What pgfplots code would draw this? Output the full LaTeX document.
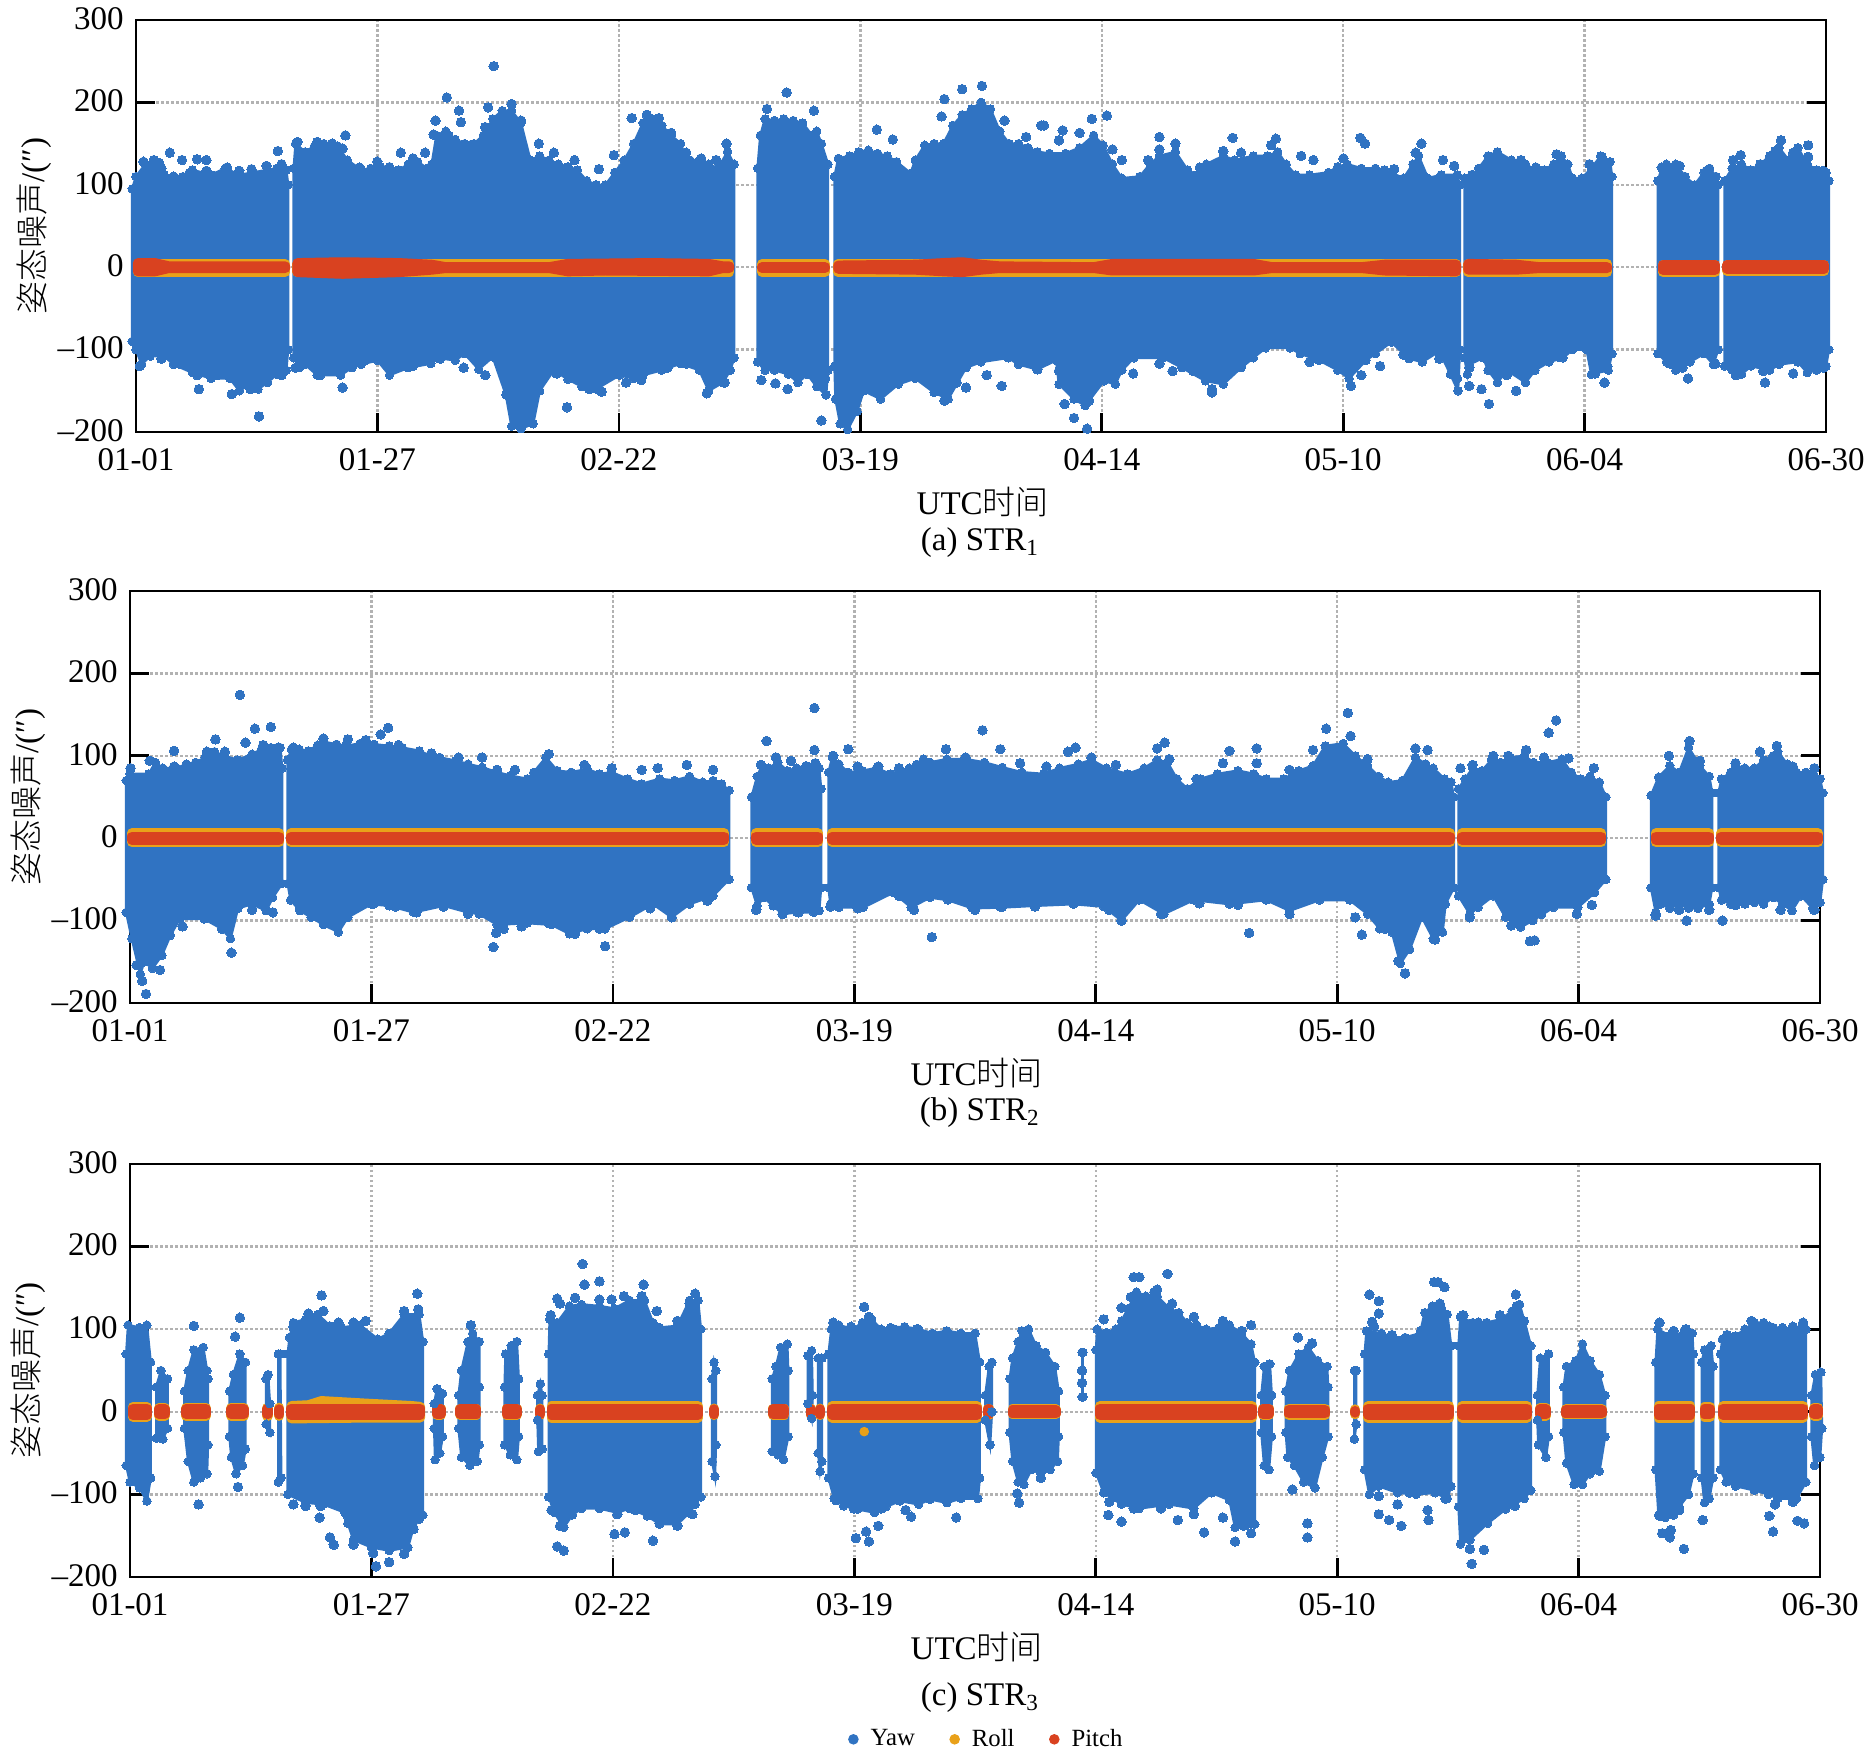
\documentclass[border=0pt]{standalone}
\usepackage{fontspec}
\usepackage{pgfplots}
\pgfplotsset{compat=1.18}
\setmainfont{Liberation Serif}
\newfontfamily\cjk{Noto Sans CJK SC}[UprightFont=* Light]

\definecolor{yaw}{RGB}{48,115,194}
\definecolor{roll}{RGB}{233,161,26}
\definecolor{pitch}{RGB}{217,66,32}

\pgfplotsset{
  strpanel/.style={
    scale only axis, width=676pt, height=164.8pt, anchor=south west,
    clip=false, xmin=0, xmax=180, ymin=-200, ymax=300,
    xtick={0,25.71,51.43,77.14,102.86,128.57,154.29,180},
    xticklabels={01-01,01-27,02-22,03-19,04-14,05-10,06-04,06-30},
    ytick={-200,-100,0,100,200,300},
    yticklabels={--200,--100,0,100,200,300},
    xtick pos=bottom, ytick pos=both, tick align=inside,
    major tick length=7.6pt, tick style={black,line width=1.1pt},
    axis line style={line width=1.1pt},
    xmajorgrids, ymajorgrids,
    grid style={gray!60,line width=1pt,dash pattern=on 1pt off 1pt},
    tick label style={font=\fontsize{13.2}{15}\selectfont},
    xticklabel style={yshift=-3.2pt},
    yticklabel style={xshift=-1.4pt,yshift=0.6pt},
    xlabel={UTC{\cjk 时间}},
    ylabel={{\cjk 姿态噪声}/(″)},
    label style={font=\fontsize{13.2}{15}\selectfont},
    xlabel style={at={(axis description cs:0.501,-0.17)},anchor=center},
    ylabel style={at={(axis description cs:-0.0605,0.5)},anchor=center},
  },
  yawblob/.style={forget plot,draw=yaw,fill=yaw,line width=1pt,mark=*,mark size=1.7pt,
    mark options={draw=yaw,fill=yaw,line width=0pt}},
  yawdots/.style={forget plot,only marks,mark=*,mark size=1.9pt,
    mark options={draw=yaw,fill=yaw,line width=0pt}},
  rollband/.style={forget plot,draw=roll,fill=roll,line width=4pt,line join=round},
  pitchband/.style={forget plot,draw=pitch,fill=pitch,line width=4pt,line join=round},
}
\newcommand{\rollrect}[4]{\addplot[rollband] coordinates {(#1,#3)(#2,#3)(#2,#4)(#1,#4)} -- cycle;}
\newcommand{\pitchrect}[4]{\addplot[pitchband] coordinates {(#1,#3)(#2,#3)(#2,#4)(#1,#4)} -- cycle;}

\begin{document}
\begin{tikzpicture}[x=0.4pt,y=-0.4pt]
\path[use as bounding box] (0,0) rectangle (1870,1750);
\coordinate (pa) at (136,432);
\coordinate (pb) at (130,1003);
\coordinate (pc) at (130,1577);

% panel a, STR1
\begin{axis}[strpanel,at={(pa)}]
\addplot[yawblob] coordinates {(-0.4,95)(0,110)(1,125)(2.5,127)(3,112)(5,110)(6,118)(8,112)(9.5,120)(11,112)(12.5,115)(14,118)(15,120)(16,118)(16.2,100)
 (16.2,-100)(16,-125)(15,-130)(14,-140)(13,-148)(12,-143)(11,-150)(10,-135)(8,-135)(6,-128)(4,-118)(3,-108)(1.5,-108)(0.6,-118)(0,-100)(-0.4,-90)} -- cycle;
\addplot[yawblob] coordinates {(16.8,120)(17,150)(18,140)(19,147)(20,150)(21.5,147)(22.5,130)(24,118)(25,120)(26,122)(27,122)(28,118)(29,125)(30,128)(31,120)(31.5,125)(32,160)(33,165)(34,155)(35,150)(36,150)(37,160)(38,180)(39,190)(40,190)(41,175)(42,130)(43,135)(44,130)(45,125)(46,122)(47,118)(48,105)(49,100)(50,100)(51,115)(52,130)(53,150)(54,175)(55,180)(56,172)(57,160)(58,150)(58.5,135)(59,130)(60,130)(61,125)(62,120)(63,140)(63.7,125)
 (63.7,-110)(63.3,-125)(62.5,-140)(61,-150)(60,-125)(58,-117)(56,-125)(54,-131)(53,-135)(51.5,-131)(49,-148)(47.5,-145)(46,-136)(44.5,-125)(43,-150)(42.3,-190)(41,-196)(40,-193)(39.4,-155)(38,-109)(36.5,-124)(35,-105)(34,-113)(32,-110)(31.4,-117)(29,-122)(27,-131)(25.7,-113)(24,-118)(23,-122)(21.8,-131)(19.3,-131)(18,-118)(17.4,-122)(16.8,-110)} -- cycle;
\addplot[yawblob] coordinates {(66.2,120)(66.5,160)(67,180)(68,178)(69,180)(70,178)(71,175)(72,160)(72.5,165)(73,150)(73.7,125)
 (73.7,-125)(73.5,-155)(72.5,-145)(71.5,-130)(70.5,-140)(69.5,-130)(68,-125)(67,-125)(66.2,-115)} -- cycle;
\addplot[yawblob] coordinates {(74.4,110)(74.8,132)(76,135)(77,140)(78,142)(79,138)(80,135)(81,128)(82.5,114)(83,130)(84,148)(85,150)(86,150)(87,172)(88,185)(89,192)(90,200)(91,192)(92,165)(93,150)(94,150)(95,145)(96,140)(97.3,138)(99,138)(100.5,145)(102,160)(103,148)(104,125)(105,108)(106.9,110)(108,125)(109,135)(110.7,140)(112,118)(113,112)(114,125)(115.8,135)(117,130)(119,135)(120.5,135)(121.6,140)(122.5,125)(123.5,112)(125,112)(127,115)(128,122)(129,125)(130.5,120)(132,120)(133,118)(135,108)(136,125)(136.6,135)(137.6,108)(139,112)(140.7,112)(141,100)
 (141,-100)(140.8,-150)(140,-130)(138.8,-102)(137,-115)(135.6,-111)(133.7,-91)(132,-105)(131,-113)(129.2,-135)(128,-125)(126,-113)(124,-105)(122.9,-98)(120.3,-98)(119,-110)(117.7,-122)(115.8,-142)(113.9,-138)(111.4,-122)(109.4,-110)(106.3,-110)(105,-125)(104.3,-142)(103.1,-138)(101.1,-168)(99.9,-160)(98.3,-142)(98,-113)(96,-124)(94,-118)(92.9,-110)(90,-115)(88.4,-122)(86.5,-160)(85,-152)(83,-135)(81.2,-142)(79.3,-160)(77.5,-150)(76.8,-175)(75.8,-197)(75,-190)(74.5,-160)(74.4,-120)} -- cycle;
\addplot[yawblob] coordinates {(141.5,108)(142.5,112)(143,120)(144,135)(145,140)(146.5,130)(148,125)(149,118)(150,118)(151,125)(151.8,135)(152.5,125)(153,108)(154,108)(155,120)(156,135)(157,128)(157.2,110)
 (157.2,-105)(156.8,-125)(155,-130)(154.5,-100)(153,-100)(152,-110)(150.5,-115)(149,-125)(148,-140)(146,-125)(145,-140)(144,-125)(143.5,-110)(142,-118)(141.8,-130)(141.5,-110)} -- cycle;
\addplot[yawblob] coordinates {(162.1,105)(162.5,120)(163,125)(164,125)(165,110)(166,100)(167,115)(167.6,120)(168.3,110)(168.5,100)
 (168.5,-100)(168,-118)(167,-105)(165.5,-115)(164,-125)(163,-115)(162.1,-105)} -- cycle;
\addplot[yawblob] coordinates {(169.2,105)(170,120)(171,125)(172,118)(173,125)(174,135)(175,145)(176,130)(177,145)(178,125)(179,118)(180,115)(180.3,105)
 (180.3,-100)(180,-120)(179,-125)(178,-128)(177,-115)(175,-118)(174,-125)(172,-120)(171,-130)(170,-125)(169.2,-120)} -- cycle;
% isolated points
\addplot[yawdots] coordinates {(3.6,139)(4.9,130)(6.5,131)(7.5,130)(15.1,141)(22.3,160)(13.1,-181)(6.7,-148)(10.2,-154)(12.2,-148)
 (38.1,244)(33.1,206)(34.4,190)(34.6,176)(31.9,178)(40,198)(37.5,194)(45.9,-170)(22,-146)
 (69.3,212)(67.2,192)(72.2,190)(66.6,-137)(68.1,-141)(69.4,-148)(73.4,-135)(73,-186)
 (90.1,220)(88,216)(86.1,204)(85.8,183)(101.8,180)(103.4,184)(96.7,172)(98.7,166)(109,158)(116.8,157)(121.4,156)(130.4,157)(136.9,150)(78.9,167)(80.6,155)
 (101.3,-196)(99.9,-183)(98.9,-166)(101.5,-162)(90.6,-131)(92.2,-144)(88.4,-146)(132.5,-120)(129.4,-144)(114.6,-152)(110.4,-126)
 (144.1,-166)(143.3,-148)(156.4,-140)(147,-150)(142,-144)(165.3,-135)(175.2,154)(178.1,148)(173.5,-140)(170.9,136)};
% points on the rim of the cloud
\addplot[yawdots] coordinates {(0.8,128)(1.9,130)(2.7,120)(4,110)(5.7,114)(7.5,117)(9.7,121)(11,117)(12.3,119)(13.9,123)(15.5,125)
 (17.2,152)(18,139)(19.3,152)(20.9,150)(22,144)(23.8,121)(25.7,128)(27,117)(28.2,139)(29.5,132)(30.8,139)(31.7,161)(33.3,159)(35.6,148)(37.2,170)(38.4,178)(41,178)(42.9,150)(44.5,139)(46.7,130)(49.3,119)(50.9,136)(52.8,181)(54.4,185)(55.7,181)(57,163)(58.6,139)(60.2,132)(61.8,130)(62.9,150)
 (0.4,-120)(2.7,-111)(4.6,-117)(6.5,-131)(8.7,-131)(11,-135)(12.9,-144)(15.5,-131)(17,-122)(19.6,-131)(21.8,-126)(24.4,-113)(27,-120)(29.5,-120)(32.4,-111)(34.9,-122)(37.2,-131)(44.8,-129)(48.3,-148)(49.6,-151)(52.2,-140)(53.8,-137)(56.6,-122)(58.6,-117)(60.8,-153)(62.7,-140)
 (92.5,178)(94.8,158)(96.4,172)(98.3,154)(100.5,163)(104,143)(105,130)(107.8,130)(109,143)(110.7,150)(113.3,121)(115.8,141)(117.7,139)(120.9,148)(124.1,135)(125.4,130)(128.6,132)(130.9,150)(134,119)(136.3,139)(139.2,130)(140.4,123)
 (87.4,-140)(86.1,-162)(96,-124)(98.3,-126)(100.2,-155)(102.4,-140)(106.2,-129)(109,-117)(112.6,-126)(114.6,-148)(117.7,-120)(125,-115)(128.6,-124)(130.5,-131)(135,-106)(138.8,-111)(140.7,-135)
 (142.3,112)(145.5,130)(147.5,130)(149.1,121)(151.3,137)(152.3,117)(154.8,125)(156.1,134)(162.5,121)(164.4,123)(167.3,117)(170.1,130)(173,125)(174.6,141)(176.5,139)(178.1,134)(179.7,117)
 (142,-122)(146,-131)(148.5,-117)(151.6,-109)(155.4,-129)(156.7,-120)(163.4,-117)(164.7,-122)(168.2,-117)(170.4,-131)(173.3,-126)(176.5,-129)(179.7,-122)};
\rollrect{0.2}{15.9}{4}{-6}\rollrect{17.2}{63.2}{4}{-6}\rollrect{66.7}{73.4}{4}{-6}\rollrect{74.8}{140.6}{4}{-6}\rollrect{141.9}{156.7}{4}{-6}\rollrect{162.6}{168.2}{3}{-6}\rollrect{169.5}{179.8}{3}{-5}
\addplot[pitchband] coordinates {(0.2,5)(2,5)(3.5,1)(15.9,1)(15.9,-1)(3.5,-1)(2,-5)(0.2,-5)} -- cycle;
\addplot[pitchband] coordinates {(17.2,5)(22,6)(28,5)(31.5,3)(33,0)(44,0)(46,4)(55,5)(61,4)(62.5,1)(63.2,1)(63.2,-1)(62.5,-1)(61,-5)(50,-4)(46,-5)(44,-1)(33,-1)(31.5,-3)(28,-6)(22,-8)(17.2,-6)} -- cycle;
\pitchrect{66.7}{73.4}{0}{-1}
\addplot[pitchband] coordinates {(74.8,2)(83,3)(86,5)(88,6)(90,3)(92,1)(102,0)(104,4)(112,4)(119,4)(121,0)(130.5,0)(133,3)(140.6,3)(140.6,-5)(133,-4)(130.5,-1)(121,-1)(119,-4)(104,-4)(102,-1)(92,-1)(90,-3)(88,-6)(86,-5)(83,-3)(74.8,-2)} -- cycle;
\addplot[pitchband] coordinates {(141.9,4)(147,3)(149.5,0)(156.7,0)(156.7,-1)(149.5,-1)(147,-3)(141.9,-3)} -- cycle;
\pitchrect{162.6}{168.2}{3}{-3}\pitchrect{169.5}{179.8}{3}{-2}
\end{axis}

% panel b, STR2
\begin{axis}[strpanel,at={(pb)}]
\addplot[yawblob] coordinates {(-0.4,70)(0,78)(2,78)(2.7,92)(3.5,85)(5,85)(6,90)(7,92)(8,98)(9,105)(10,100)(11.5,95)(13,102)(14,108)(15,110)(16,110)(16.2,85)
 (16.2,-55)(15.2,-72)(14.5,-88)(13,-80)(11.5,-85)(10.7,-122)(9.8,-110)(7.9,-98)(5.3,-98)(4.3,-118)(3.4,-142)(2.4,-158)(1.5,-150)(1.1,-165)(0.2,-122)(-0.4,-90)} -- cycle;
\addplot[yawblob] coordinates {(16.8,95)(17.2,108)(18,108)(19,106)(20,113)(20.6,117)(22,114)(23,112)(24.5,115)(26,114)(27.6,112)(29,110)(30.8,106)(32,100)(33,98)(34.7,94)(36,90)(37.5,86)(39.1,80)(40.5,76)(42.3,72)(43,80)(44.3,98)(45.5,82)(47,80)(48.7,84)(50,78)(51.3,80)(53,72)(54.5,66)(56.4,72)(58,70)(59.6,75)(61,68)(62.1,70)(63,66)(63.8,58)
 (63.8,-50)(62.1,-70)(59.6,-80)(57.7,-96)(55.7,-80)(53.2,-96)(50.6,-110)(48.7,-110)(46.8,-116)(44.9,-105)(42.3,-103)(39.1,-105)(37.2,-92)(36,-90)(33.4,-82)(30.2,-90)(27.6,-82)(25.7,-80)(23.2,-96)(22.2,-114)(20.6,-105)(19.3,-96)(18.1,-88)(17.1,-75)(16.8,-55)} -- cycle;
\addplot[yawblob] coordinates {(66.2,50)(66.8,75)(67.3,88)(68,85)(69,92)(70,82)(71,85)(72,88)(73,88)(73.4,85)(73.6,60)
 (73.6,-60)(73.4,-88)(72.8,-90)(71,-90)(69.5,-92)(68.5,-82)(67.5,-72)(66.8,-82)(66.2,-60)} -- cycle;
\addplot[yawblob] coordinates {(74.4,80)(74.8,98)(75.5,90)(76.5,80)(78,82)(79.5,85)(81,78)(82,82)(83,85)(84.5,96)(85.2,92)(87,96)(89,96)(91,92)(92.9,86)(95,80)(97.3,78)(99,85)(101,90)(102.4,95)(104,85)(106.2,78)(108,85)(109.4,95)(110.5,92)(111.5,72)(112.6,60)(114,72)(115.8,78)(118,82)(119.7,78)(121,72)(122.9,72)(124.5,82)(126,88)(127.3,112)(129.2,115)(130.5,100)(131.8,88)(133,75)(134,68)(135.5,70)(136.9,98)(138,90)(138.8,85)(140,72)(140.7,68)(141,50)
 (141,-60)(140.1,-80)(139.8,-114)(138.8,-122)(137.6,-96)(136.3,-135)(135.3,-152)(134.4,-114)(133.1,-110)(131.8,-92)(129.9,-75)(126.7,-75)(123.5,-88)(121,-75)(117.1,-80)(113.3,-75)(110.1,-92)(107.5,-75)(105.6,-100)(103.7,-83)(100.5,-80)(96.4,-82)(92.9,-84)(89.7,-85)(87.1,-75)(85.2,-72)(83.2,-84)(81.3,-66)(78.1,-84)(75.5,-84)(74.6,-80)(74.4,-60)} -- cycle;
\addplot[yawblob] coordinates {(141.5,60)(142.2,72)(143,85)(144,82)(145,95)(146,92)(147,98)(148.5,100)(149.5,92)(151,92)(152.5,96)(153.5,80)(154.5,72)(155.5,75)(156.5,68)(157.2,50)
 (157.2,-50)(156,-66)(154.2,-84)(151.6,-84)(149.4,-100)(148.1,-108)(146.5,-96)(145.2,-70)(143.6,-84)(142.7,-92)(141.5,-70)} -- cycle;
\addplot[yawblob] coordinates {(162,52)(162.8,74)(164,88)(165,80)(166,110)(167.2,88)(168.2,75)(168.5,55)
 (168.5,-60)(168.2,-80)(167,-85)(166,-85)(165,-80)(164,-85)(163,-80)(162.5,-90)(162,-60)} -- cycle;
\addplot[yawblob] coordinates {(169.2,55)(169.5,72)(170.5,80)(171,88)(172,85)(173,85)(174,95)(175,100)(175.5,105)(176.5,90)(177.5,80)(178.5,80)(179.3,78)(180,72)(180.3,55)
 (180.3,-50)(180,-78)(179.2,-85)(178,-70)(177,-88)(176,-80)(175,-72)(174,-80)(173,-78)(172,-80)(170.5,-80)(169.5,-75)(169.2,-60)} -- cycle;
\addplot[yawdots] coordinates {(11.7,174)(13.3,133)(15,135)(9.1,120)(4.7,106)(1.7,-189)(1.3,-173)(0.7,-154)(3.2,-160)(10.8,-139)(0.06,85)
 (27.5,134)(26.7,126)(38.7,-132)(39,-115)(50.6,-131)(30.5,-90)
 (67.8,118)(72.9,158)(72.9,107)(76.5,108)
 (90.8,131)(129.7,152)(127.4,133)(130,124)(151.9,143)(151.1,128)(86.9,108)(92.7,108)(100.7,110)(110.2,116)(120,109)(119.2,-115)(131.2,-117)(85.4,-120)(105.6,-100)(135.8,-164)(135.1,-149)(117.1,106)
 (149.1,-125)(149.6,-124)(166.1,118)(165.8,-100)(162.5,-94)(169.6,-100)(175.4,112)};
\addplot[yawdots] coordinates {(2.1,94)(4.7,87)(8.2,105)(10.1,105)(12.3,116)(14.2,113)(15.8,110)(17.4,110)(20.6,121)(23.2,120)(25.1,119)(28.6,113)(32.1,103)(35,98)(37.5,98)(39.1,83)(41,83)(44.6,102)(48.4,89)(51.3,85)(54.5,83)(56.2,85)(59.3,89)(62.1,83)(67.2,89)(68.8,98)(70.4,94)(73,91)(74.9,100)(77.5,87)(79.7,87)(81.9,85)(83.8,89)
 (5.6,-107)(9.8,-110)(13,-87)(15.2,-90)(18.1,-85)(20.6,-101)(23.5,-83)(26,-79)(28.3,-83)(33.4,-83)(36,-92)(39.8,-110)(41.7,-107)(44.6,-103)(47.4,-116)(50,-110)(53.2,-94)(55.4,-85)(57.7,-96)(61.5,-76)(66.7,-87)(69.5,-92)(71.2,-90)(74.6,-83)(77.5,-85)(81.9,-70)(83.5,-87)
 (89,98)(94.8,91)(97.6,87)(99.9,105)(102.4,98)(105,89)(109.4,109)(110.7,96)(113.6,72)(116.4,91)(120,91)(123.5,83)(126,107)(131.8,96)(136.9,109)(138.2,107)(141.7,85)(143,89)(145.2,100)(146.8,100)(148.7,107)(150.6,98)(153.2,97)(155.9,85)(163.9,100)(167.2,94)(171,91)(173.6,105)(177.1,87)(179.4,85)
 (90,-87)(92.7,-83)(96.4,-83)(100.5,-79)(104.3,-87)(109.8,-92)(113.9,-79)(118,-81)(123.5,-92)(130.5,-96)(133.7,-110)(139,-123)(142.7,-96)(147.1,-106)(150.3,-92)(154.1,-92)(155.7,-81)(162.5,-92)(165,-87)(168.2,-87)(171,-81)(175.8,-87)(179.4,-87)};
\rollrect{0.2}{15.9}{6}{-5}\rollrect{17.2}{63.3}{6}{-5}\rollrect{66.7}{73.3}{6}{-5}\rollrect{74.8}{140.6}{6}{-5}\rollrect{141.9}{156.7}{6}{-5}\rollrect{162.5}{168.2}{6}{-5}\rollrect{169.5}{179.8}{6}{-5}
\pitchrect{0.2}{15.9}{2}{-2}\pitchrect{17.2}{63.3}{2}{-2}\pitchrect{66.7}{73.3}{2}{-2}\pitchrect{74.8}{140.6}{2}{-2}\pitchrect{141.9}{156.7}{2}{-2}\pitchrect{162.5}{168.2}{2}{-2}\pitchrect{169.5}{179.8}{2}{-2}
\end{axis}

% panel c, STR3
\begin{axis}[strpanel,at={(pc)},height=165.2pt,
  legend style={at={(axis description cs:0.5077,-0.393)},anchor=center,draw=none,fill=none,
    font=\fontsize{9.9}{11}\selectfont,legend columns=3,
    /tikz/every odd column/.append style={column sep=3pt},
    /tikz/every even column/.append style={column sep=12pt}}]
\addlegendimage{only marks,mark=*,mark size=1.9pt,color=yaw}\addlegendentry{Yaw}
\addlegendimage{only marks,mark=*,mark size=1.9pt,color=roll}\addlegendentry{Roll}
\addlegendimage{only marks,mark=*,mark size=1.9pt,color=pitch}\addlegendentry{Pitch}
\addplot[yawblob] coordinates {(-0.4,70)(-0.2,105)(1,102)(1.8,105)(2.2,60)(2.2,-80)(1.8,-108)(1,-92)(0,-85)(-0.4,-65)} -- cycle;
\addplot[yawblob] coordinates {(2.8,30)(3.3,50)(4,40)(4,-20)(3.5,-33)(2.8,-32)} -- cycle;
\addplot[yawblob] coordinates {(5.8,25)(6.2,50)(6.8,75)(7.8,78)(8.2,50)(8.3,40)(8.3,-40)(8.2,-75)(7.5,-80)(6.8,-85)(6.2,-60)(5.8,-20)} -- cycle;
\addplot[yawblob] coordinates {(10.6,25)(11,45)(11.7,70)(12.3,60)(12.3,-45)(12,-65)(11.3,-75)(10.8,-55)(10.6,-30)} -- cycle;
\addplot[yawblob] coordinates {(14.5,40)(14.7,45)(14.9,10)(14.9,-25)(14.5,-15)} -- cycle;
\addplot[yawblob] coordinates {(15.8,70)(16,70)(16.1,-80)(15.8,-85)} -- cycle;
\addplot[yawblob] coordinates {(16.8,70)(17,90)(17.4,108)(18.7,112)(20,118)(21.3,104)(22.5,102)(24.5,105)(26.4,88)(27.6,95)(29.2,118)(30.8,118)(31.2,85)
 (31.2,-125)(30.8,-130)(30.2,-140)(29.6,-164)(27.6,-168)(25.7,-164)(23.8,-155)(23.2,-135)(22.9,-122)(20.6,-112)(18.7,-110)(16.8,-100)} -- cycle;
\addplot[yawblob] coordinates {(32.4,10)(32.7,28)(33.3,22)(33.3,-30)(33,-50)(32.5,-58)(32.4,-20)} -- cycle;
\addplot[yawblob] coordinates {(35,20)(35.3,50)(36,85)(36.5,95)(37.2,85)(37.2,30)(37.2,-40)(37,-60)(36.2,-65)(35.3,-55)(35,-20)} -- cycle;
\addplot[yawblob] coordinates {(39.9,30)(40,70)(40.6,80)(41.2,85)(41.4,40)(41.4,-30)(41.2,-58)(40.5,-52)(39.9,-40)} -- cycle;
\addplot[yawblob] coordinates {(43.4,20)(43.7,34)(43.9,20)(43.9,-45)(43.5,-48)(43.4,-10)} -- cycle;
\addplot[yawblob] coordinates {(44.6,70)(44.7,112)(45.5,108)(46.8,128)(48.1,130)(50,128)(51.6,125)(53.2,135)(54.8,135)(55.7,108)(56.4,102)(58.3,104)(59.6,135)(60.5,135)(60.8,100)
 (60.8,-103)(60.2,-112)(59.6,-122)(58.3,-136)(56.4,-136)(55.1,-126)(53.2,-117)(51.9,-122)(50,-117)(48.1,-117)(47.1,-125)(46.2,-140)(45.2,-122)(44.6,-103)} -- cycle;
\addplot[yawblob] coordinates {(62,40)(62.2,60)(62.4,50)(62.4,-40)(62.3,-78)(62,-60)} -- cycle;
\addplot[yawblob] coordinates {(68.4,40)(68.8,55)(69.3,78)(70,82)(70.1,50)(70.1,-30)(69.6,-58)(69,-52)(68.4,-48)} -- cycle;
\addplot[yawblob] coordinates {(72.2,68)(72.6,74)(72.7,20)(72.6,-8)(72.2,10)} -- cycle;
\addplot[yawblob] coordinates {(73.3,65)(73.7,65)(73.7,-60)(73.5,-72)(73.3,-50)} -- cycle;
\addplot[yawblob] coordinates {(74.4,70)(74.7,100)(75.5,105)(77,100)(78,108)(79,112)(80,100)(81,102)(82.5,103)(84,100)(85.5,95)(87,98)(88.5,95)(90,95)(90.5,60)
 (90.5,-80)(90.3,-105)(88.5,-105)(87,-110)(85.2,-106)(84,-112)(82,-108)(80.5,-115)(79.3,-122)(77.5,-118)(76,-114)(75,-105)(74.4,-80)} -- cycle;
\addplot[yawblob] coordinates {(91.1,20)(91.5,55)(91.8,60)(91.8,0)(91.6,-40)(91.1,-10)} -- cycle;
\addplot[yawblob] coordinates {(93.7,40)(94,65)(94.6,85)(95,98)(95.7,100)(96.5,80)(97.5,72)(98.5,55)(98.9,25)(98.9,-30)(98.8,-60)(98,-70)(97,-75)(96,-70)(95.2,-88)(94.6,-85)(94,-60)(93.7,-25)} -- cycle;
\addplot[yawblob] coordinates {(101.4,72)(101.5,72)(101.5,18)(101.4,18)} -- cycle;
\addplot[yawblob] coordinates {(102.9,75)(103,100)(104,96)(105,100)(105.6,110)(106.3,125)(107.2,145)(108.2,140)(109.4,140)(110.7,125)(111.7,120)(112.6,108)(113.6,105)(114.6,100)(116,102)(117.1,105)(118.4,95)(119.4,82)(119.8,60)
 (119.8,-136)(119,-136)(117.7,-140)(117.1,-107)(115.2,-98)(113.3,-117)(110.7,-112)(107.5,-117)(105.6,-112)(103.7,-98)(102.9,-74)} -- cycle;
\addplot[yawblob] coordinates {(120.5,20)(120.8,55)(121.4,58)(121.6,20)(121.6,-30)(121.3,-70)(120.8,-65)(120.5,-25)} -- cycle;
\addplot[yawblob] coordinates {(123.1,25)(123.5,50)(124.5,70)(125.5,78)(126.5,62)(127.5,55)(127.6,30)(127.6,-30)(127,-55)(126.2,-92)(125,-85)(124,-65)(123.3,-55)(123.1,-25)} -- cycle;
\addplot[yawblob] coordinates {(130.4,50)(130.6,50)(130.6,-15)(130.4,-33)} -- cycle;
\addplot[yawblob] coordinates {(131.5,70)(131.7,98)(133.3,95)(134.5,90)(135.8,90)(137.4,95)(137.9,120)(138.7,128)(139.7,125)(140.3,118)(140.7,80)(140.7,-90)(140.3,-105)(139,-98)(137,-100)(135,-98)(133,-90)(132,-100)(131.5,-70)} -- cycle;
\addplot[yawblob] coordinates {(141.5,80)(141.7,115)(143,108)(144.5,108)(146,112)(147.2,122)(148,130)(148.5,110)(149.2,80)(149.2,-95)(148.5,-105)(146.5,-118)(144.6,-135)(142.7,-155)(141.7,-160)(141.5,-115)} -- cycle;
\addplot[yawblob] coordinates {(149.9,20)(150.2,65)(151.1,70)(151.1,-30)(150.8,-55)(150,-40)(149.9,-10)} -- cycle;
\addplot[yawblob] coordinates {(152.7,30)(153,55)(154,62)(154.7,82)(155.5,62)(156.5,45)(157.1,20)(157.1,-30)(156.5,-72)(155.5,-75)(154.7,-88)(153.8,-88)(153,-62)(152.7,-25)} -- cycle;
\addplot[yawblob] coordinates {(162.5,60)(162.7,100)(164,92)(165.5,96)(166.4,95)(166.5,70)(166.5,-75)(166,-100)(165,-115)(164.4,-125)(163.5,-128)(162.8,-125)(162.5,-70)} -- cycle;
\addplot[yawblob] coordinates {(167.4,60)(167.7,75)(168.4,80)(168.6,55)(168.6,-80)(168.2,-105)(167.7,-110)(167.4,-80)} -- cycle;
\addplot[yawblob] coordinates {(169.4,70)(169.6,88)(171,92)(172,100)(173,108)(174,108)(175,102)(176,102)(177,100)(178,102)(178.5,100)(178.5,-85)(177.5,-105)(175.5,-105)(174.5,-100)(173,-95)(171,-90)(170,-85)(169.4,-70)} -- cycle;
\addplot[yawblob] coordinates {(179.1,20)(179.5,45)(180.1,48)(180.2,-20)(180,-55)(179.4,-65)(179.1,-30)} -- cycle;
\addplot[yawdots] coordinates {(6.8,104)(7.3,-112)(11.7,114)(11.2,91)(11.5,-91)(20.4,141)(30.6,143)(26.2,-187)(27.6,-182)(29.2,-172)(25.9,-171)(21.3,-152)(21.7,-161)(20.2,-128)(36.3,105)
 (48.2,179)(50,158)(48.4,154)(54.7,154)(60.2,143)(45.5,137)(46.2,-168)(45.5,-163)(55.7,-156)(52.7,-146)(51.6,-148)
 (88,-128)(78.2,127)(77.3,-153)(78.7,-157)(78.4,-145)(79.7,-138)(83.2,-127)(94.7,-110)(94.5,-99)(97,-80)(101.4,50)(101.4,35)
 (110.5,167)(106.9,163)(107.5,163)(109.4,148)(106.6,139)(103.7,112)(119.4,105)(117.7,-157)(119.4,-147)(114.4,-146)(105.6,-133)(104.2,-125)(111.6,-131)
 (124.4,90)(125.9,83)(125.4,-152)(125.4,-135)(123.8,-94)
 (139.3,157)(138.9,157)(140,151)(132,142)(133,134)(133,119)(132.3,109)(133,-124)(135,-112)(135.4,-138)(134.1,-131)(138.3,-131)(138.2,-119)
 (142.9,-184)(144.2,-167)(142.7,-166)(147.6,142)(147.7,128)
 (165.5,-166)(164.1,-143)(163.2,-147)(162.9,108)(164,-152)(167.5,-131)(178.3,-135)(177.6,-132)(175,-145)(174.6,-126)(178.2,108)};
\addplot[yawdots] coordinates {(17.4,103)(19,119)(20.6,122)(22.2,108)(23.8,108)(25.1,110)(29.2,122)(30.7,124)
 (17.4,-112)(18.7,-114)(20.3,-114)(23.2,-126)(23.8,-161)(27,-161)(30.2,-142)
 (44.8,117)(45.8,131)(47.4,138)(50,136)(51.3,136)(52.6,140)(54.5,140)(56.1,122)(58.3,110)(59.6,131)
 (44.9,-119)(45.8,-138)(47.8,-109)(50,-114)(51.9,-124)(53.8,-119)(56.4,-135)(58.3,-138)(59.9,-124)
 (74.9,108)(76.8,103)(78.7,115)(81.3,100)(83.8,100)(75.2,-107)(77.1,-117)(80,-117)(82.6,-119)
 (105.6,126)(106.9,140)(109.1,145)(111,131)(113.3,115)(116.4,110)(118.4,98)
 (104.3,-109)(106.9,-117)(109.8,-117)(113.3,-124)(116.4,-128)(118.6,-138)
 (132.5,103)(134.4,93)(137.5,98)(139.5,131)(142,117)(143.6,108)(145.9,117)(148.1,112)
 (133,-102)(136.3,-98)(140.1,-105)(142.7,-142)(145.2,-124)(147.5,-114)
 (170.1,93)(172.7,110)(174.6,103)(177.1,103)(175.2,-112)(177.1,-109)(164.4,98)(165.7,100)(163,-126)(165,-119)};
\addplot[forget plot,only marks,mark=*,mark size=1.7pt,color=roll] coordinates {(78.2,-24)};
\rollrect{0.3}{1.8}{6}{-6}\rollrect{3.1}{3.7}{5}{-5}\rollrect{6}{8.1}{5}{-5}\rollrect{10.8}{12.1}{5}{-5}\rollrect{14.6}{14.7}{5}{-5}\rollrect{15.9}{15.9}{5}{-5}
\addplot[rollband] coordinates {(17.2,7)(19,8)(20.4,13)(25,10)(30,7)(30.9,6)(30.9,-7)(25,-7)(17.2,-8)} -- cycle;
\rollrect{32.7}{33.1}{4}{-4}\rollrect{35.2}{36.9}{4}{-4}\rollrect{40.1}{41.2}{4}{-4}\rollrect{43.7}{43.7}{4}{-4}\rollrect{44.9}{60.5}{7}{-7}\rollrect{62.2}{62.2}{4}{-4}\rollrect{68.5}{69.7}{4}{-4}\rollrect{72.5}{72.5}{4}{-4}\rollrect{73.5}{73.5}{4}{-4}\rollrect{74.8}{90.2}{7}{-7}\rollrect{91.4}{91.5}{4}{-4}\rollrect{94}{98.6}{3}{-3}\rollrect{103.3}{119.5}{7}{-7}\rollrect{120.7}{121.3}{4}{-4}\rollrect{123.4}{127.3}{4}{-4}\rollrect{130.5}{130.5}{3}{-3}\rollrect{131.9}{140.5}{7}{-7}\rollrect{141.9}{148.8}{7}{-7}\rollrect{150.2}{150.8}{5}{-5}\rollrect{152.9}{156.8}{3}{-3}\rollrect{162.8}{166.2}{7}{-7}\rollrect{167.7}{168.3}{6}{-6}\rollrect{169.7}{178.2}{7}{-7}\rollrect{179.4}{179.8}{5}{-5}
\pitchrect{0.3}{1.8}{4}{-4}\pitchrect{3.1}{3.7}{3}{-3}\pitchrect{6}{8.1}{3}{-3}\pitchrect{10.8}{12.1}{3}{-3}\pitchrect{14.6}{14.7}{3}{-3}\pitchrect{15.9}{15.9}{3}{-3}\pitchrect{17.2}{30.9}{4}{-4}\pitchrect{32.7}{33.1}{3}{-3}\pitchrect{35.2}{36.9}{3}{-3}\pitchrect{40.1}{41.2}{3}{-3}\pitchrect{43.7}{43.7}{3}{-3}\pitchrect{44.9}{60.5}{4}{-4}\pitchrect{62.2}{62.2}{3}{-3}\pitchrect{68.5}{69.7}{3}{-3}\pitchrect{72.5}{72.5}{3}{-3}\pitchrect{73.5}{73.5}{3}{-3}\pitchrect{74.8}{90.2}{4}{-4}\pitchrect{91.4}{91.5}{3}{-3}\pitchrect{94}{98.6}{2}{-2}\pitchrect{101.5}{101.5}{0}{0}\pitchrect{103.3}{119.5}{4}{-4}\pitchrect{120.7}{121.3}{3}{-3}\pitchrect{123.4}{127.3}{2}{-2}\pitchrect{130.5}{130.5}{1}{-1}\pitchrect{131.9}{140.5}{4}{-4}\pitchrect{141.9}{148.8}{4}{-4}\pitchrect{150.2}{150.8}{3}{-3}\pitchrect{152.9}{156.8}{2}{-2}\pitchrect{162.8}{166.2}{4}{-4}\pitchrect{167.7}{168.3}{3}{-3}\pitchrect{169.7}{178.2}{4}{-4}\pitchrect{179.4}{179.8}{3}{-3}
\end{axis}

\node[font=\fontsize{13.2}{15}\selectfont] at (980,543) {(a) STR\textsubscript{1}};
\node[font=\fontsize{13.2}{15}\selectfont] at (980,1113) {(b) STR\textsubscript{2}};
\node[font=\fontsize{13.2}{15}\selectfont] at (980,1698) {(c) STR\textsubscript{3}};
\end{tikzpicture}
\end{document}
